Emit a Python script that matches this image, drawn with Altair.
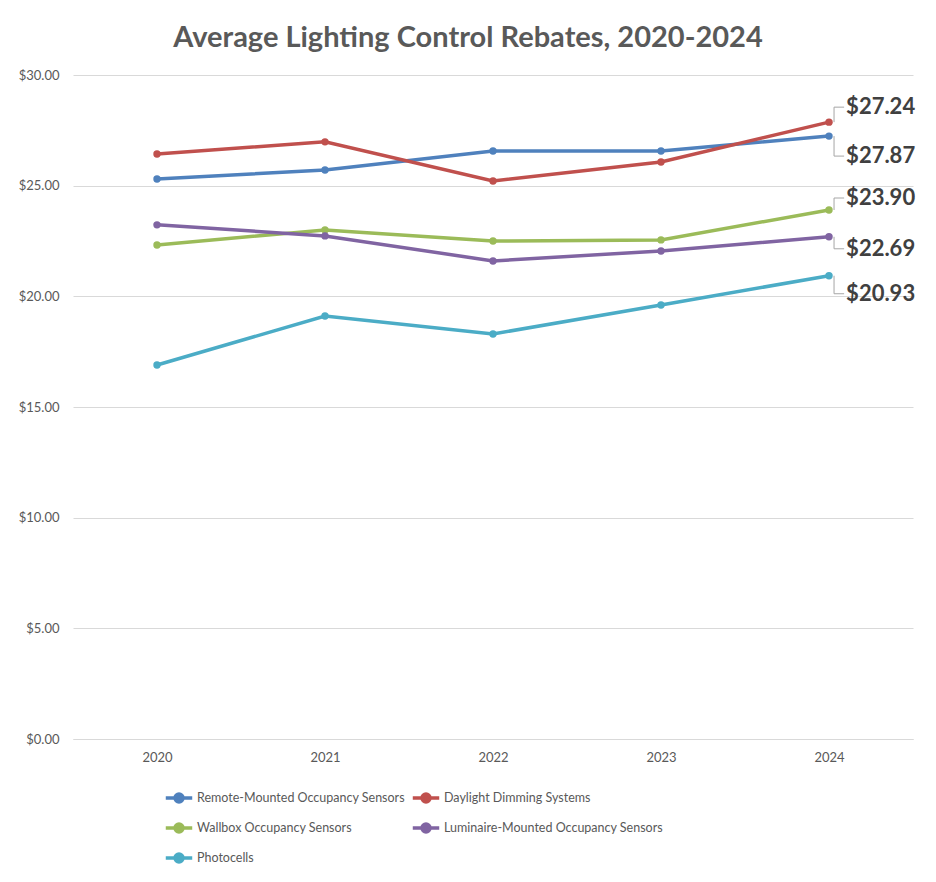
import altair as alt
import pandas as pd

years = [2020, 2021, 2022, 2023, 2024]
series_names = [
    "Remote-Mounted Occupancy Sensors",
    "Daylight Dimming Systems",
    "Wallbox Occupancy Sensors",
    "Luminaire-Mounted Occupancy Sensors",
    "Photocells",
]
remote = [25.30, 25.71, 26.57, 26.57, 27.24]
daylight = [26.43, 26.98, 25.21, 26.07, 27.87]
wallbox = [22.32, 23.00, 22.50, 22.55, 23.90]
luminaire = [23.23, 22.73, 21.60, 22.05, 22.69]
photocells = [16.90, 19.11, 18.30, 19.61, 20.93]
colors = ["#4F81BD", "#C0504D", "#9BBB59", "#8064A2", "#4BACC6"]

# end labels as shown in the reference (top to bottom)
end_labels = ["$27.24", "$27.87", "$23.90", "$22.69", "$20.93"]
end_series = [daylight, remote, wallbox, luminaire, photocells]

all_values = [remote, daylight, wallbox, luminaire, photocells]
rows = []
for name, vals in zip(series_names, all_values):
    for y, v in zip(years, vals):
        rows.append({"Year": y, "Series": name, "Value": v})
df = pd.DataFrame(rows)

# legend fills column by column: order so that it reads row by row
legend_order = [0, 2, 4, 1, 3]
dom = [series_names[i] for i in legend_order]
rng = [colors[i] for i in legend_order]

# label offsets in pixels (style), converted to data units
px_per_unit = 664 / 30
label_dy = [-15, 20, -12, 12, 18]
lab_rows = []
for txt, vals, dy in zip(end_labels, end_series, label_dy):
    v = vals[-1]
    ly = v - dy / px_per_unit
    lab_rows.append({"Year": years[-1], "Value": v, "LabelY": ly, "Text": txt,
                     "X1": years[-1] + 0.03, "X2": years[-1] + 0.09})
lab = pd.DataFrame(lab_rows)

font = "Lato"
grey = "#595959"

x_enc = alt.X("Year:Q", scale=alt.Scale(domain=[2019.5, 2024.5], nice=False),
              axis=alt.Axis(values=years, format="d", title=None, grid=False, ticks=False,
                            domain=True, domainColor="#d9d9d9", labelColor=grey,
                            labelFontSize=13, labelPadding=12, labelFont=font))
y_enc = alt.Y("Value:Q", scale=alt.Scale(domain=[0, 30], nice=False),
              axis=alt.Axis(values=[0, 5, 10, 15, 20, 25, 30], format="$.2f", title=None,
                            grid=True, gridColor="#d9d9d9", ticks=False, domain=False,
                            labelColor=grey, labelFontSize=13, labelPadding=14, labelFont=font))

sym = "M-1,0L-0.3,0M0.3,0L1,0M-0.3,0A0.3,0.3 0 1,1 0.3,0A0.3,0.3 0 1,1 -0.3,0Z"

lines = alt.Chart(df).mark_line(strokeWidth=3.5, point=alt.OverlayMarkDef(size=55, filled=True)).encode(
    x=x_enc, y=y_enc,
    color=alt.Color("Series:N", sort=dom,
                    scale=alt.Scale(domain=dom, range=rng),
                    legend=alt.Legend(title=None, orient="none", legendX=91, legendY=708,
                                      columns=2, symbolType=sym, symbolSize=700,
                                      symbolStrokeWidth=3.5, labelFontSize=12.5,
                                      labelColor=grey, labelFont=font, rowPadding=4,
                                      columnPadding=0, symbolOffset=0, labelOffset=3,
                                      labelLimit=300)),
)

vrule = alt.Chart(lab).mark_rule(color="#a6a6a6", strokeWidth=1).encode(
    x=alt.X("X1:Q"), y=alt.Y("Value:Q"), y2="LabelY:Q")
hrule = alt.Chart(lab).mark_rule(color="#a6a6a6", strokeWidth=1).encode(
    x=alt.X("X1:Q"), x2="X2:Q", y=alt.Y("LabelY:Q"))
texts = alt.Chart(lab).mark_text(align="left", baseline="middle", fontSize=22,
                                 fontWeight="bold", color="#404040", font=font, dx=2).encode(
    x=alt.X("X2:Q"), y=alt.Y("LabelY:Q"), text="Text:N")

chart = alt.layer(lines, vrule, hrule, texts).properties(
    width=840, height=664,
    title=alt.Title("Average Lighting Control Rebates, 2020-2024", fontSize=29,
                    fontWeight="bold", color=grey, font=font, anchor="middle", offset=16,
                    dx=-25),
    autosize=alt.AutoSizeParams(type="none"),
    padding={"left": 65, "top": 67, "right": 15, "bottom": 135},
    background="white",
).configure_view(stroke=None)

chart.save("out.html", embed_options={"renderer": "svg", "actions": False})
